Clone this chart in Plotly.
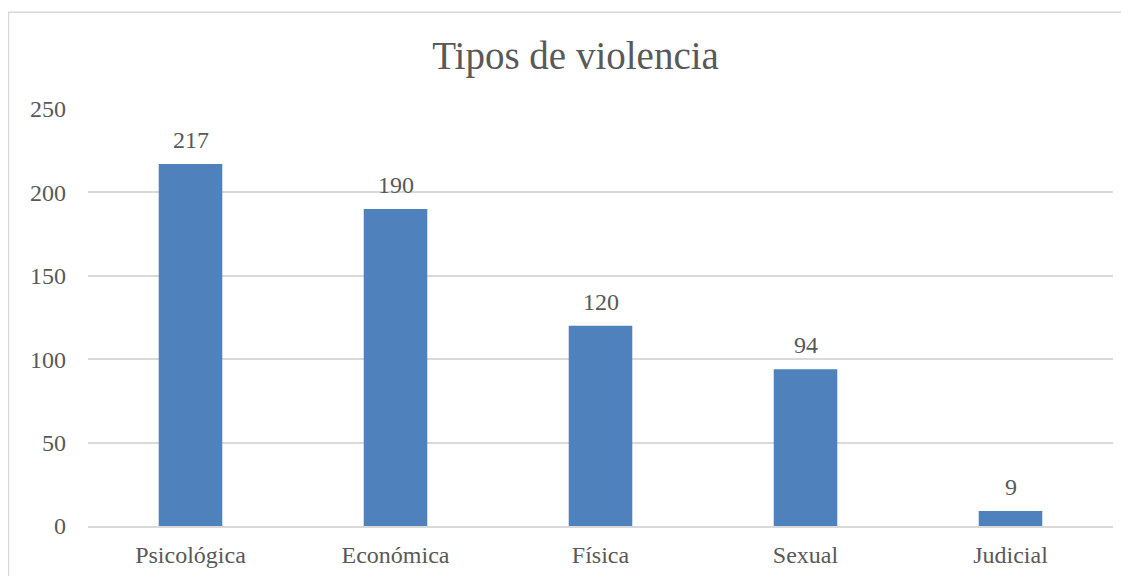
import plotly.graph_objects as go

categories = ["Psicológica", "Económica", "Física", "Sexual", "Judicial"]
values = [217, 190, 120, 94, 9]
y_ticks = [0, 50, 100, 150, 200, 250]

# page has an 8px body margin, so figure is 8px smaller each way
W, H = 1121, 572
L, R, T, B = 80, 16, 101, 46
FONT = "Liberation Serif"
GRAY = "#595959"
GRID = "#D9D9D9"

fig = go.Figure(go.Bar(
    x=categories, y=values,
    marker=dict(color="#4F81BD", line=dict(width=0)),
    width=0.31,
))

for c, v in zip(categories, values):
    fig.add_annotation(x=c, y=v, text=str(v), showarrow=False,
                       yanchor="middle", yshift=24,
                       font=dict(family=FONT, size=24, color=GRAY))

pw, ph = W - L - R, H - T - B
def px_x(p):
    return (p - L) / pw
def px_y(p):
    return (H - B - p) / ph

fig.update_layout(
    width=W, height=H,
    margin=dict(l=L, r=R, t=T, b=B),
    paper_bgcolor="white", plot_bgcolor="white",
    title=dict(text="Tipos de violencia", xref="container", x=567.5 / W, xanchor="center",
               yref="container", y=1 - 47 / H, yanchor="middle",
               font=dict(family=FONT, size=39, color=GRAY)),
    xaxis=dict(showgrid=False, showline=True, linecolor=GRID, linewidth=1.5,
               ticks="", tickfont=dict(family=FONT, size=24, color=GRAY),
               ticklabelstandoff=6),
    yaxis=dict(range=[0, 250], tickvals=y_ticks, showgrid=True, gridcolor=GRID,
               gridwidth=1.5, zeroline=False, showline=False, ticks="",
               tickfont=dict(family=FONT, size=24, color=GRAY), ticklabelstandoff=21),
    showlegend=False,
    shapes=[
        dict(type="line", xref="paper", yref="paper", x0=px_x(0.5), x1=px_x(0.5),
             y0=px_y(2.5), y1=px_y(H + 5), line=dict(color=GRID, width=1.5)),
        dict(type="line", xref="paper", yref="paper", x0=px_x(0), x1=px_x(W + 5),
             y0=px_y(2.5), y1=px_y(2.5), line=dict(color=GRID, width=1.5)),
    ],
)

fig.write_html("out.html")
